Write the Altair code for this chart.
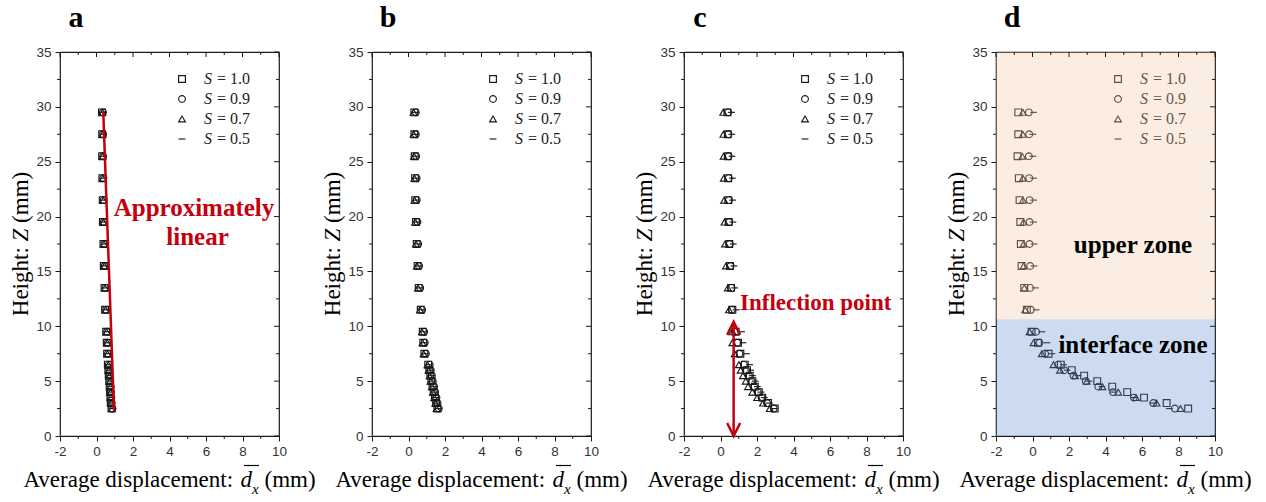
import altair as alt
import pandas as pd

# ---------------- data ----------------
Z = [29.5, 27.5, 25.5, 23.5, 21.5, 19.5, 17.5, 15.5, 13.5, 11.5, 9.5, 8.5, 7.5,
     6.5, 6.0, 5.5, 5.0, 4.5, 4.0, 3.5, 3.0, 2.5]
SERIES = ["1.0", "0.9", "0.7", "0.5"]

# panel a
A_10 = [0.30, 0.31, 0.31, 0.32, 0.34, 0.35, 0.38, 0.40, 0.44, 0.47, 0.53, 0.56, 0.58,
        0.62, 0.65, 0.67, 0.70, 0.72, 0.74, 0.76, 0.78, 0.82]
A_09 = [0.35, 0.36, 0.36, 0.37, 0.39, 0.40, 0.43, 0.45, 0.49, 0.52, 0.58, 0.61, 0.63,
        0.67, 0.70, 0.72, 0.75, 0.77, 0.79, 0.81, 0.83, 0.87]
A_07 = [0.33, 0.34, 0.34, 0.35, 0.37, 0.38, 0.41, 0.43, 0.47, 0.50, 0.56, 0.59, 0.61,
        0.65, 0.68, 0.70, 0.73, 0.75, 0.77, 0.79, 0.81, 0.85]
A_05 = [0.38, 0.39, 0.39, 0.40, 0.42, 0.43, 0.46, 0.48, 0.52, 0.55, 0.61, 0.64, 0.66,
        0.70, 0.73, 0.75, 0.78, 0.80, 0.82, 0.84, 0.86, 0.90]

# panel b
B_10 = [0.32, 0.32, 0.34, 0.36, 0.37, 0.41, 0.45, 0.50, 0.56, 0.67, 0.78, 0.81, 0.87,
        1.08, 1.14, 1.20, 1.25, 1.32, 1.38, 1.45, 1.51, 1.58]
B_09 = [0.40, 0.40, 0.42, 0.44, 0.45, 0.49, 0.53, 0.58, 0.64, 0.75, 0.86, 0.89, 0.95,
        1.16, 1.22, 1.28, 1.33, 1.40, 1.46, 1.53, 1.59, 1.66]
B_07 = [0.28, 0.28, 0.30, 0.32, 0.33, 0.37, 0.41, 0.46, 0.52, 0.63, 0.74, 0.77, 0.83,
        1.04, 1.10, 1.16, 1.21, 1.28, 1.34, 1.41, 1.47, 1.54]
B_05 = [0.38, 0.38, 0.40, 0.42, 0.43, 0.47, 0.51, 0.56, 0.62, 0.73, 0.84, 0.87, 0.93,
        1.14, 1.20, 1.26, 1.31, 1.38, 1.44, 1.51, 1.57, 1.64]

# panel c
C_10 = [0.38, 0.40, 0.40, 0.42, 0.43, 0.45, 0.48, 0.52, 0.58, 0.65, 0.83, 0.96, 1.09,
        1.33, 1.45, 1.60, 1.75, 1.88, 2.10, 2.29, 2.60, 2.97]
C_09 = [0.42, 0.43, 0.44, 0.45, 0.46, 0.48, 0.50, 0.55, 0.60, 0.62, 0.80, 0.92, 1.04,
        1.28, 1.40, 1.55, 1.70, 1.84, 2.05, 2.25, 2.55, 2.92]
C_07 = [0.15, 0.16, 0.17, 0.18, 0.20, 0.22, 0.25, 0.30, 0.40, 0.47, 0.66, 0.65, 0.78,
        1.01, 1.10, 1.23, 1.38, 1.51, 1.74, 2.01, 2.33, 2.70]
C_05 = [0.60, 0.62, 0.63, 0.65, 0.66, 0.68, 0.70, 0.74, 0.78, 0.87, 1.15, 1.23, 1.42,
        1.60, 1.65, 1.75, 1.90, 2.02, 2.22, 2.40, 2.68, 2.92]

# panel d
D_10 = [-0.78, -0.78, -0.82, -0.75, -0.71, -0.67, -0.64, -0.60, -0.45, -0.31, -0.05, 0.30, 0.88,
        1.55, 2.15, 2.83, 3.55, 4.37, 5.19, 6.11, 7.35, 8.53]
D_09 = [-0.20, -0.18, -0.20, -0.18, -0.16, -0.16, -0.16, -0.13, -0.13, -0.09, 0.20, 0.38, 0.69,
        1.40, 1.73, 2.25, 2.92, 3.61, 4.41, 5.56, 6.62, 7.80]
D_07 = [-0.53, -0.53, -0.56, -0.53, -0.53, -0.49, -0.49, -0.49, -0.45, -0.40, -0.16, 0.06, 0.51,
        1.15, 1.51, 2.33, 2.97, 3.83, 4.70, 5.67, 6.80, 8.11]
D_05 = [0.06, 0.02, 0.02, 0.06, 0.06, 0.06, 0.09, 0.09, 0.15, 0.20, 0.51, 0.79, 1.06,
        1.70, 1.90, 2.50, 3.10, 3.80, 4.45, 5.55, 6.60, 7.50]

X_MAJOR = [-2, 0, 2, 4, 6, 8, 10]
X_MINOR = [-1, 1, 3, 5, 7, 9]
Y_MAJOR = [0, 5, 10, 15, 20, 25, 30, 35]
Y_MINOR = [2.5, 7.5, 12.5, 17.5, 22.5, 27.5, 32.5]

FIT_X = [0.37, 0.96]
FIT_Z = [29.6, 2.3]

ARROW_X = [0.72]
ARROW_Z0 = [0.0]
ARROW_Z1 = [10.4]

ZONE_NAMES = ["upper", "interface"]
ZONE_LO = [10.64, 0.0]
ZONE_HI = [35.0, 10.64]

# ---------------- style ----------------
W, H = 219, 384
SERIF = "Liberation Serif"
SANS = "Liberation Sans"
INK = "#1a1a1a"
RED = "#c4000c"
SHAPES = ["square", "circle", "triangle-up", "M-1,0H1"]
MSIZE = 46
MSTROKE = 1.15

xscale = alt.Scale(domain=[-2, 10], nice=False, zero=False)
yscale = alt.Scale(domain=[0, 35], nice=False, zero=False)
xaxis = alt.Axis(values=X_MAJOR, title=None, grid=False, domain=False, tickSize=5,
                 tickColor=INK, tickWidth=1, labelFont=SANS, labelFontSize=13.5,
                 labelColor="#333333", labelPadding=3, labelExpr="'' + datum.value",
                 labelOverlap=False, labelFlush=False)
yaxis = alt.Axis(values=Y_MAJOR, title=None, grid=False, domain=False, tickSize=5,
                 tickColor=INK, tickWidth=1, labelFont=SANS, labelFontSize=13.5,
                 labelColor="#333333", labelPadding=4, labelExpr="'' + datum.value",
                 labelOverlap=False)
shape_scale = alt.Scale(domain=SERIES, range=SHAPES)


def txt(s, x, y, size, **kw):
    style = dict(font=SERIF, fontSize=size, color=INK, align="left", baseline="alphabetic")
    style.update(kw)
    return alt.Chart(pd.DataFrame({"t": [s]})).mark_text(**style).encode(
        text="t:N", x=alt.value(x), y=alt.value(y))


def points(cols):
    rows = []
    for s, xs in zip(SERIES, cols):
        for z, x in zip(Z, xs):
            rows.append({"x": x, "z": z, "series": s})
    return alt.Chart(pd.DataFrame(rows)).mark_point(
        filled=False, size=MSIZE, strokeWidth=MSTROKE, color=INK, opacity=1).encode(
        x=alt.X("x:Q", scale=xscale, axis=xaxis),
        y=alt.Y("z:Q", scale=yscale, axis=yaxis),
        shape=alt.Shape("series:N", scale=shape_scale, legend=None),
    )


def legend(mx):
    df = pd.DataFrame({"series": SERIES})
    df["ly"] = [27 + 20 * i for i in range(len(SERIES))]
    df["lab"] = ["= " + s for s in SERIES]
    df["s"] = "S"
    base = alt.Chart(df)
    sym = base.mark_point(filled=False, size=MSIZE, strokeWidth=MSTROKE, color=INK, opacity=1).encode(
        x=alt.value(mx), y=alt.Y("ly:Q", scale=None, axis=None),
        shape=alt.Shape("series:N", scale=shape_scale, legend=None))
    s_txt = base.mark_text(font=SERIF, fontSize=16, fontStyle="italic", color="#222222",
                           align="left", baseline="middle").encode(
        x=alt.value(mx + 22), y=alt.Y("ly:Q", scale=None, axis=None), text="s:N")
    l_txt = base.mark_text(font=SERIF, fontSize=16, color="#222222",
                           align="left", baseline="middle").encode(
        x=alt.value(mx + 35), y=alt.Y("ly:Q", scale=None, axis=None), text="lab:N")
    return [sym, s_txt, l_txt]


def ticks():
    xmaj = alt.Chart(pd.DataFrame({"v": X_MAJOR}))
    xmin = alt.Chart(pd.DataFrame({"v": X_MINOR}))
    ymaj = alt.Chart(pd.DataFrame({"v": Y_MAJOR}))
    ymin = alt.Chart(pd.DataFrame({"v": Y_MINOR}))
    rule = dict(color=INK, strokeWidth=1)
    X = alt.X("v:Q", scale=xscale, axis=xaxis)
    Y = alt.Y("v:Q", scale=yscale, axis=yaxis)
    return [
        xmaj.mark_rule(**rule).encode(x=X, y=alt.value(0), y2=alt.value(5)),
        xmin.mark_rule(**rule).encode(x=X, y=alt.value(0), y2=alt.value(3)),
        xmin.mark_rule(**rule).encode(x=X, y=alt.value(H), y2=alt.value(H + 3)),
        ymaj.mark_rule(**rule).encode(y=Y, x=alt.value(W), x2=alt.value(W - 5)),
        ymin.mark_rule(**rule).encode(y=Y, x=alt.value(W), x2=alt.value(W - 3)),
        ymin.mark_rule(**rule).encode(y=Y, x=alt.value(0), x2=alt.value(-3)),
    ]


def titles(letter):
    return [
        txt(letter, 16, -25, 30, fontWeight="bold", align="center", color="#000000"),
        txt("Average displacement:", -36.6, 435, 23, color="#000000"),
        txt("d", 180.6, 435, 23, fontStyle="italic", color="#000000"),
        txt("x", 192.1, 442, 15, fontStyle="italic", color="#000000"),
        txt("(mm)", 204.5, 435, 23, color="#000000"),
        alt.Chart(pd.DataFrame({"t": [0]})).mark_rule(color="#000000", strokeWidth=1.2).encode(
            x=alt.value(184), x2=alt.value(199), y=alt.value(413.5)),
        txt("Height:", -39, 264.2, 23, angle=270, baseline="middle", color="#000000"),
        txt("Z", -39, 189.4, 23, angle=270, baseline="middle", fontStyle="italic", color="#000000"),
        txt("(mm)", -39, 170.9, 23, angle=270, baseline="middle", color="#000000"),
    ]


def panel(layers):
    return alt.layer(*layers).properties(width=W, height=H)


# panel a
fit = alt.Chart(pd.DataFrame({"x": FIT_X, "z": FIT_Z})).mark_line(
    color=RED, strokeWidth=2.5).encode(
    x=alt.X("x:Q", scale=xscale, axis=xaxis), y=alt.Y("z:Q", scale=yscale, axis=yaxis))
pa = panel([points([A_10, A_09, A_07, A_05]), fit] + legend(122) + ticks() + titles("a") + [
    txt("Approximately", 134, 156, 25, fontWeight="bold", color=RED, align="center", baseline="middle"),
    txt("linear", 137.5, 185, 25, fontWeight="bold", color=RED, align="center", baseline="middle"),
])

# panel b
pb = panel([points([B_10, B_09, B_07, B_05])] + legend(121) + ticks() + titles("b"))

# panel c
arrow_df = pd.DataFrame({"x": ARROW_X, "z0": ARROW_Z0, "z1": ARROW_Z1})
arrow_line = alt.Chart(arrow_df).mark_rule(color=RED, strokeWidth=2.5).encode(
    x=alt.X("x:Q", scale=xscale, axis=xaxis),
    y=alt.Y("z0:Q", scale=yscale, axis=yaxis), y2="z1:Q")
arrow_top = alt.Chart(arrow_df).mark_point(
    shape="M-1,2L0,0L1,2", filled=False, size=169, color=RED, strokeWidth=2.5, opacity=1).encode(
    x=alt.X("x:Q", scale=xscale, axis=xaxis), y=alt.Y("z1:Q", scale=yscale, axis=yaxis))
arrow_bot = alt.Chart(arrow_df).mark_point(
    shape="M-1,-2L0,0L1,-2", filled=False, size=169, color=RED, strokeWidth=2.5, opacity=1).encode(
    x=alt.X("x:Q", scale=xscale, axis=xaxis), y=alt.Y("z0:Q", scale=yscale, axis=yaxis))
pc = panel([points([C_10, C_09, C_07, C_05]), arrow_line, arrow_top, arrow_bot]
           + legend(121) + ticks() + titles("c") + [
    txt("Inflection point", 131.7, 251, 23, fontWeight="bold", color=RED, align="center",
        baseline="middle"),
])

# panel d
zones = alt.Chart(pd.DataFrame({"zone": ZONE_NAMES, "lo": ZONE_LO, "hi": ZONE_HI})).mark_rect(
    opacity=0.32).encode(
    x=alt.value(0), x2=alt.value(W),
    y=alt.Y("lo:Q", scale=yscale, axis=yaxis), y2="hi:Q",
    color=alt.Color("zone:N", scale=alt.Scale(domain=ZONE_NAMES, range=["#f4c7a6", "#5f8fcf"]),
                    legend=None))
pd_ = panel([points([D_10, D_09, D_07, D_05])] + legend(122) + [zones] + ticks() + titles("d") + [
    txt("upper zone", 137, 192.7, 25, fontWeight="bold", color="#000000", align="center",
        baseline="middle"),
    txt("interface zone", 137, 292.7, 25, fontWeight="bold", color="#000000", align="center",
        baseline="middle"),
])

chart = alt.hconcat(pa, pb, pc, pd_, spacing=93, bounds="flush").properties(
    padding={"left": 9, "top": 2, "right": 0, "bottom": 0},
    background="white",
).configure_view(stroke=INK, strokeWidth=1.2)

chart.save("out.html", embed_options={"renderer": "svg", "actions": False})
